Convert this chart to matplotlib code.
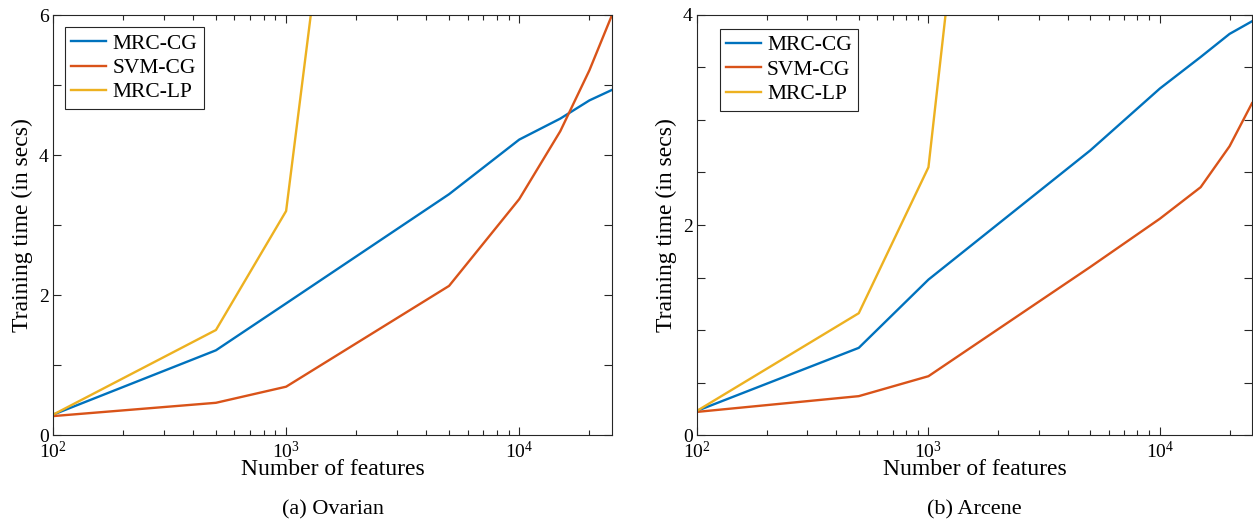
import numpy as np
import matplotlib
matplotlib.use("Agg")
from matplotlib import pyplot as plt
from matplotlib.ticker import LogLocator, LogFormatterMathtext, NullFormatter

plt.rcParams['font.family'] = ['Liberation Serif', 'DejaVu Serif']
plt.rcParams['mathtext.fontset'] = 'custom'
plt.rcParams['mathtext.rm'] = 'Liberation Serif'
plt.rcParams['mathtext.it'] = 'Liberation Serif:italic'

#   number of features (x axis)
features = [100, 500, 1000, 5000, 10000, 15000, 20000, 25000]
features_lp = [100, 500, 1000, 5000]

#   Ovarian training times
ovarian_mrc_cg = [0.29, 1.21, 1.88, 3.44, 4.22, 4.52, 4.78, 4.93]
ovarian_svm_cg = [0.27, 0.46, 0.69, 2.13, 3.37, 4.34, 5.21, 6.0]
ovarian_mrc_lp = [0.29, 1.50, 3.20, 21.7]

#   Arcene training times
arcene_mrc_cg = [0.23, 0.83, 1.48, 2.71, 3.30, 3.60, 3.82, 3.94]
arcene_svm_cg = [0.22, 0.37, 0.56, 1.60, 2.06, 2.36, 2.75, 3.16]
arcene_mrc_lp = [0.23, 1.16, 2.55, 16.3]

Colors = ["#0072BD", "#D95319", "#EDB120"]
Names = ["MRC-CG", "SVM-CG", "MRC-LP"]


def Draw_Panel(ax, mrc_cg, svm_cg, mrc_lp, y_max, y_step, caption, leg_anchor):
    ax.plot(features, mrc_cg, color=Colors[0], lw=1.7, label=Names[0])
    ax.plot(features, svm_cg, color=Colors[1], lw=1.7, label=Names[1])
    ax.plot(features_lp, mrc_lp, color=Colors[2], lw=1.7, label=Names[2])
    ax.set_xscale("log")
    ax.set_xlim(100, 25000)
    ax.set_ylim(0, y_max)
    ax.xaxis.set_major_locator(LogLocator(base=10, numticks=10))
    ax.xaxis.set_major_formatter(LogFormatterMathtext())
    ax.xaxis.set_minor_locator(LogLocator(base=10, subs=np.arange(2, 10), numticks=10))
    ax.xaxis.set_minor_formatter(NullFormatter())
    yt = np.arange(0, y_max + y_step / 2, y_step)
    ax.set_yticks(yt)
    ax.set_yticklabels([("%g" % v) if abs(v % 2) < 1e-9 else "" for v in yt])
    ax.tick_params(which="both", direction="in", top=True, right=True,
                   colors="#262626", labelcolor="black", labelsize=14, width=0.8)
    ax.tick_params(which="major", length=6)
    ax.tick_params(which="minor", length=3.5)
    ax.tick_params(axis="x", pad=4)
    ax.tick_params(axis="y", pad=3)
    for s in ax.spines.values():
        s.set_color("#262626")
        s.set_linewidth(0.8)
    ax.set_xlabel("Number of features", fontsize=17, labelpad=-2)
    ax.set_ylabel("Training time (in secs)", fontsize=17, labelpad=4)
    leg = ax.legend(loc="upper left", bbox_to_anchor=leg_anchor, fontsize=15.5,
                    fancybox=False, framealpha=1, edgecolor="#262626",
                    borderaxespad=0, handlelength=1.6, handletextpad=0.3,
                    labelspacing=0.2, borderpad=0.3)
    leg.get_frame().set_linewidth(0.8)
    ax.text(0.5, -0.155, caption, transform=ax.transAxes, ha="center", va="top", fontsize=16)


fig = plt.figure(figsize=(12.53, 5.25), dpi=100)
ax1 = fig.add_axes([53 / 1253, 90 / 525, 559 / 1253, 420 / 525])
ax2 = fig.add_axes([697 / 1253, 90 / 525, 555 / 1253, 420 / 525])

Draw_Panel(ax1, ovarian_mrc_cg, ovarian_svm_cg, ovarian_mrc_lp, 6, 1, "(a) Ovarian", (0.0215, 0.971))
Draw_Panel(ax2, arcene_mrc_cg, arcene_svm_cg, arcene_mrc_lp, 4, 0.5, "(b) Arcene", (0.041, 0.967))

fig.savefig("out.png", dpi=100)
